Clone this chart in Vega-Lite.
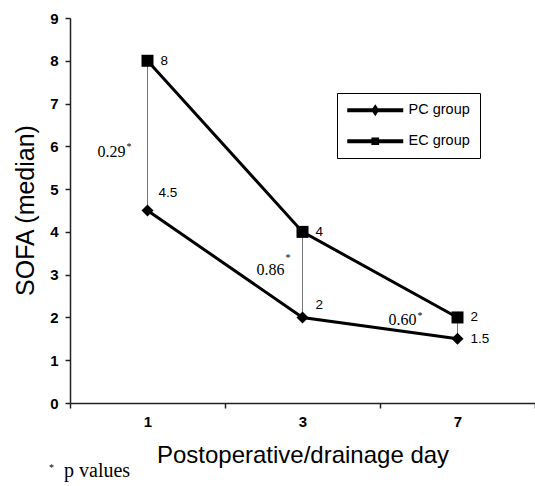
{
  "$schema": "https://vega.github.io/schema/vega-lite/v6.json",
  "width": 465,
  "height": 385,
  "autosize": {"type": "none"},
  "padding": {"left": 70, "top": 18, "right": 0, "bottom": 83},
  "background": "white",
  "config": {"view": {"stroke": null}, "font": "Liberation Sans"},
  "title": {
    "text": "*",
    "subtitle": "\u200b\u2002\u00a0p values",
    "orient": "bottom",
    "anchor": "start",
    "frame": "bounds",
    "font": "Liberation Serif",
    "fontSize": 10,
    "fontWeight": "normal",
    "color": "black",
    "subtitleFont": "Liberation Serif",
    "subtitleFontSize": 20,
    "subtitleColor": "black",
    "subtitlePadding": -12,
    "dx": 36,
    "dy": -4,
    "offset": 0
  },
  "datasets": {
    "series": [
      {"day": "1", "group": "PC group", "sofa": 4.5},
      {"day": "3", "group": "PC group", "sofa": 2},
      {"day": "7", "group": "PC group", "sofa": 1.5},
      {"day": "1", "group": "EC group", "sofa": 8},
      {"day": "3", "group": "EC group", "sofa": 4},
      {"day": "7", "group": "EC group", "sofa": 2}
    ],
    "pvals": [
      {"day": "1", "lo": 4.5, "hi": 8, "p": "0.29"},
      {"day": "3", "lo": 2, "hi": 4, "p": "0.86"},
      {"day": "7", "lo": 1.5, "hi": 2, "p": "0.60"}
    ]
  },
  "encoding": {
    "x": {
      "field": "day",
      "type": "ordinal",
      "scale": {"type": "band", "domain": ["1", "3", "7"], "paddingInner": 0, "paddingOuter": 0},
      "axis": {
        "title": "Postoperative/drainage day",
        "titleFontSize": 24,
        "titleFontWeight": "normal",
        "titleColor": "black",
        "titleBaseline": "alphabetic",
        "titleY": 59,
        "labelAngle": 0,
        "labelFontSize": 15,
        "labelFontWeight": "bold",
        "labelColor": "black",
        "labelPadding": 6,
        "tickSize": 5,
        "tickBand": "extent",
        "tickColor": "#222",
        "tickWidth": 1.5,
        "domainColor": "#222",
        "domainWidth": 1.5,
        "grid": false
      }
    }
  },
  "layer": [
    {
      "data": {"name": "pvals"},
      "mark": {"type": "rule", "color": "#777", "strokeWidth": 1},
      "encoding": {
        "y": {
          "field": "lo",
          "type": "quantitative",
          "title": "SOFA (median)",
          "scale": {"domain": [0, 9], "nice": false},
          "axis": {
            "values": [0, 1, 2, 3, 4, 5, 6, 7, 8, 9],
            "title": "SOFA (median)",
            "titleFontSize": 25,
            "titleFontWeight": "normal",
            "titleColor": "black",
            "titleBaseline": "alphabetic",
            "titleX": -37,
            "titleY": 192,
            "labelFontSize": 15,
            "labelFontWeight": "bold",
            "labelColor": "black",
            "labelPadding": 7,
            "tickSize": 5,
            "tickColor": "#222",
            "tickWidth": 1.5,
            "domainColor": "#222",
            "domainWidth": 1.5,
            "grid": false
          }
        },
        "y2": {"field": "hi"}
      }
    },
    {
      "data": {"name": "series"},
      "mark": {"type": "line", "color": "black", "strokeWidth": 3},
      "encoding": {
        "y": {"field": "sofa", "type": "quantitative", "title": "SOFA (median)"},
        "detail": {"field": "group"}
      }
    },
    {
      "data": {"name": "series"},
      "transform": [{"filter": "datum.group === 'PC group'"}],
      "mark": {"type": "point", "shape": "diamond", "filled": true, "size": 144, "color": "black", "opacity": 1},
      "encoding": {
        "y": {"field": "sofa", "type": "quantitative", "title": "SOFA (median)"}
      }
    },
    {
      "data": {"name": "series"},
      "transform": [{"filter": "datum.group === 'EC group'"}],
      "mark": {"type": "point", "shape": "square", "filled": true, "size": 144, "color": "black", "opacity": 1},
      "encoding": {
        "y": {"field": "sofa", "type": "quantitative", "title": "SOFA (median)"}
      }
    },
    {
      "data": {"name": "series"},
      "mark": {"type": "point", "filled": true, "size": 1, "color": "black", "opacity": 0},
      "encoding": {
        "y": {"field": "sofa", "type": "quantitative", "title": "SOFA (median)"},
        "shape": {
          "field": "group",
          "type": "nominal",
          "scale": {
            "domain": ["PC group", "EC group"],
            "range": [
              "M-1,-0.29L7,-0.29L7,0.29L-1,0.29Z M2.43,0L3,-0.86L3.57,0L3,0.86Z",
              "M-1,-0.29L7,-0.29L7,0.29L-1,0.29Z M2.45,-0.55L3.55,-0.55L3.55,0.55L2.45,0.55Z"
            ]
          },
          "legend": {
            "title": null,
            "orient": "none",
            "legendX": 267,
            "legendY": 75,
            "strokeColor": "black",
            "padding": 10,
            "rowPadding": 16,
            "labelFontSize": 14.5,
            "labelFont": "Liberation Sans",
            "labelColor": "black",
            "labelOffset": 47,
            "symbolSize": 196,
            "symbolOpacity": 1,
            "symbolFillColor": "black",
            "symbolStrokeColor": "transparent",
            "symbolStrokeWidth": 0
          }
        }
      }
    },
    {
      "data": {"name": "series"},
      "transform": [{"filter": "datum.group === 'EC group' || datum.day === '7'"}],
      "mark": {"type": "text", "align": "left", "baseline": "middle", "dx": 13, "fontSize": 13.5, "font": "Liberation Sans", "color": "black"},
      "encoding": {
        "y": {"field": "sofa", "type": "quantitative", "title": "SOFA (median)"},
        "text": {"field": "sofa", "type": "quantitative", "format": "~g"}
      }
    },
    {
      "data": {"name": "series"},
      "transform": [{"filter": "datum.group === 'PC group' && datum.day === '1'"}],
      "mark": {"type": "text", "align": "left", "baseline": "middle", "dx": 11, "dy": -18, "fontSize": 13.5, "font": "Liberation Sans", "color": "black"},
      "encoding": {
        "y": {"field": "sofa", "type": "quantitative", "title": "SOFA (median)"},
        "text": {"field": "sofa", "type": "quantitative", "format": "~g"}
      }
    },
    {
      "data": {"name": "series"},
      "transform": [{"filter": "datum.group === 'PC group' && datum.day === '3'"}],
      "mark": {"type": "text", "align": "left", "baseline": "middle", "dx": 13, "dy": -12, "fontSize": 13.5, "font": "Liberation Sans", "color": "black"},
      "encoding": {
        "y": {"field": "sofa", "type": "quantitative", "title": "SOFA (median)"},
        "text": {"field": "sofa", "type": "quantitative", "format": "~g"}
      }
    },
    {
      "data": {"name": "pvals"},
      "transform": [{"filter": "datum.day === '1'"}],
      "encoding": {"y": {"field": "lo", "type": "quantitative", "title": "SOFA (median)"}},
      "layer": [
        {
          "mark": {"type": "text", "align": "right", "baseline": "alphabetic", "dx": -22, "dy": -54, "fontSize": 16, "font": "Liberation Serif", "color": "black"},
          "encoding": {"text": {"field": "p"}}
        },
        {
          "mark": {"type": "text", "align": "left", "baseline": "alphabetic", "dx": -21, "dy": -61, "fontSize": 10, "font": "Liberation Serif", "color": "black", "text": "*"},
          "encoding": {}
        }
      ]
    },
    {
      "data": {"name": "pvals"},
      "transform": [{"filter": "datum.day === '3'"}],
      "encoding": {"y": {"field": "lo", "type": "quantitative", "title": "SOFA (median)"}},
      "layer": [
        {
          "mark": {"type": "text", "align": "right", "baseline": "alphabetic", "dx": -18, "dy": -42, "fontSize": 16, "font": "Liberation Serif", "color": "black"},
          "encoding": {"text": {"field": "p"}}
        },
        {
          "mark": {"type": "text", "align": "left", "baseline": "alphabetic", "dx": -17, "dy": -56, "fontSize": 10, "font": "Liberation Serif", "color": "black", "text": "*"},
          "encoding": {}
        }
      ]
    },
    {
      "data": {"name": "pvals"},
      "transform": [{"filter": "datum.day === '7'"}],
      "encoding": {"y": {"field": "lo", "type": "quantitative", "title": "SOFA (median)"}},
      "layer": [
        {
          "mark": {"type": "text", "align": "right", "baseline": "alphabetic", "dx": -41, "dy": -14, "fontSize": 16, "font": "Liberation Serif", "color": "black"},
          "encoding": {"text": {"field": "p"}}
        },
        {
          "mark": {"type": "text", "align": "left", "baseline": "alphabetic", "dx": -40, "dy": -20, "fontSize": 10, "font": "Liberation Serif", "color": "black", "text": "*"},
          "encoding": {}
        }
      ]
    }
  ]
}
